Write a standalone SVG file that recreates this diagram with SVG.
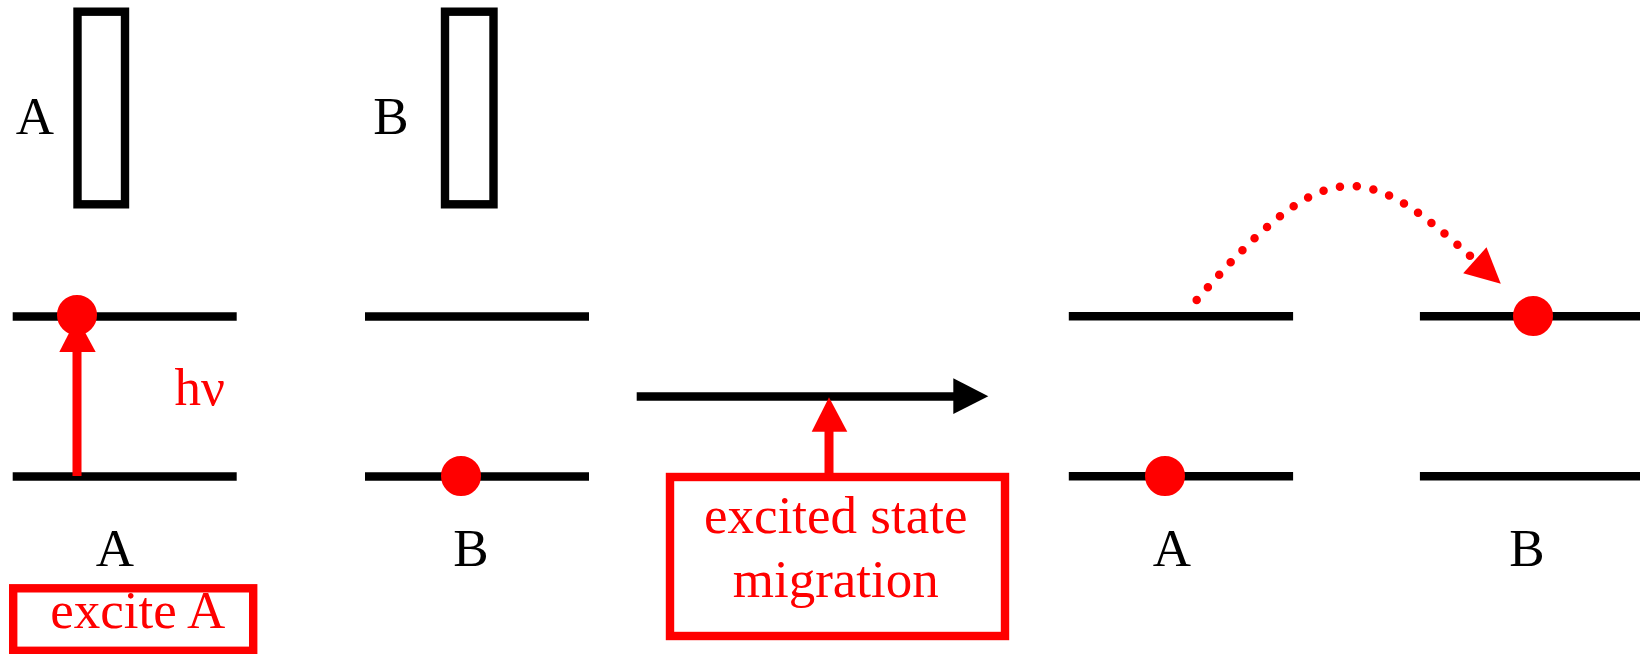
<svg xmlns="http://www.w3.org/2000/svg" width="1640" height="654" viewBox="0 0 1640 654">
<style>
.lvl{stroke:#000;stroke-width:8.4;fill:none}
.box{stroke:#000;stroke-width:8.4;fill:none}
.rbox{stroke:#ff0000;stroke-width:8.4;fill:none}
.dot{fill:#ff0000;stroke:#ff0000;stroke-width:8}
.t{font-family:"Liberation Serif","Times New Roman",serif;font-size:53px;text-anchor:middle}
.blk{fill:#000}
.red{fill:#ff0000}
.rl{stroke:#ff0000;stroke-width:9;fill:none}
.bl{stroke:#000;stroke-width:8.4;fill:none}
</style>
<rect width="1640" height="654" fill="#fff"/>
<g id="boxA">
<rect class="box" x="77.5" y="11.7" width="47.5" height="192.6"/>
<text class="t blk" x="35" y="134">A</text>
</g>
<g id="boxB">
<rect class="box" x="445" y="11.7" width="48.5" height="192.6"/>
<text class="t blk" x="391" y="134">B</text>
</g>
<g id="molA1">
<line class="lvl" x1="12.7" y1="316.5" x2="236.7" y2="316.5"/>
<line class="lvl" x1="12.7" y1="476.5" x2="236.7" y2="476.5"/>
<text class="t blk" x="115" y="565.7">A</text>
</g>
<g id="molB1">
<line class="lvl" x1="365" y1="316.5" x2="589" y2="316.5"/>
<line class="lvl" x1="365" y1="476.5" x2="589" y2="476.5"/>
<circle class="dot" cx="461" cy="476" r="16"/>
<text class="t blk" x="471" y="565.7">B</text>
</g>
<g id="molA2">
<line class="lvl" x1="1068.8" y1="316.3" x2="1293.1" y2="316.3"/>
<line class="lvl" x1="1068.8" y1="476.3" x2="1293.1" y2="476.3"/>
<circle class="dot" cx="1165" cy="476" r="16"/>
<text class="t blk" x="1171.8" y="565.7">A</text>
</g>
<g id="molB2">
<line class="lvl" x1="1419.9" y1="316.3" x2="1640" y2="316.3"/>
<line class="lvl" x1="1419.9" y1="476.3" x2="1640" y2="476.3"/>
<circle class="dot" cx="1533" cy="316" r="16"/>
<text class="t blk" x="1526.9" y="565.7">B</text>
</g>
<g id="exciteA">
<rect class="rbox" x="13.2" y="588.3" width="240" height="62.5"/>
<text class="t red" x="137.8" y="628.3">excite A</text>
</g>
<g id="migration">
<rect class="rbox" x="670" y="477" width="335" height="159"/>
<text class="t red" x="835.8" y="533.3">excited state</text>
<text class="t red" x="835.8" y="596.7">migration</text>
</g>
<g id="hv">
<text class="t red" x="199.7" y="405">hν</text>
</g>
<g id="connectors">
<line class="rl" x1="77" y1="476" x2="77" y2="350"/>
<polygon class="red" points="59.3,352 95.7,352 77,317.6"/>
<circle class="dot" cx="77" cy="315" r="16"/>
<line class="bl" x1="636.7" y1="396.5" x2="955" y2="396.5"/>
<polygon class="blk" points="953.3,378.3 988.3,396.2 953.3,414"/>
<line class="rl" x1="829" y1="477" x2="829" y2="430"/>
<polygon class="red" points="811.7,431.7 847.3,431.7 829,397.3"/>
<path d="M1196.7,300 C1327,150 1364.6,160 1474.9,260.3" fill="none" stroke="#ff0000" stroke-width="8.5" stroke-linecap="round" stroke-dasharray="0 16.9"/>
<polygon class="red" points="1486.5,247.3 1463.2,273.3 1500.8,283.7"/>
</g>
</svg>
